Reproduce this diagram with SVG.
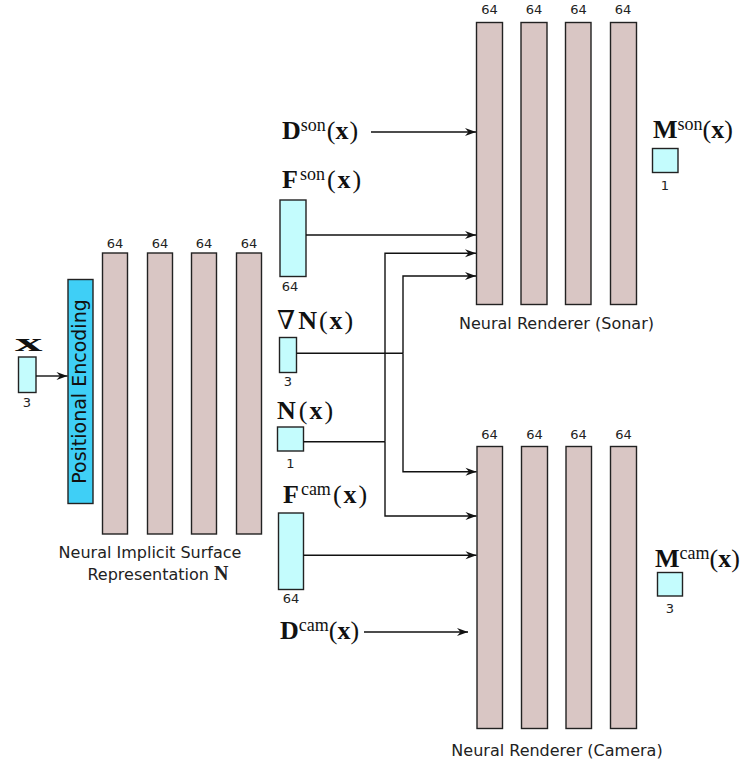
<svg xmlns="http://www.w3.org/2000/svg" width="749" height="767" viewBox="0 0 749 767">
<defs>
<style>
.bar{fill:#d9c6c4;stroke:#222;stroke-width:1.4}
.vec{fill:#c4fcfd;stroke:#222;stroke-width:1.4}
.pe{fill:#3fcff6;stroke:#222;stroke-width:1.4}
.dim{font-family:"DejaVu Sans",sans-serif;font-size:13px;fill:#222;text-anchor:middle}
.cap{font-family:"DejaVu Sans",sans-serif;font-size:16px;fill:#222;text-anchor:middle}
.m{font-family:"Liberation Serif","DejaVu Serif",serif;font-size:26px;fill:#111}
.b{font-weight:bold}
.sup{font-size:18px}
.con{fill:none;stroke:#111;stroke-width:1.4}
</style>
<marker id="ah" markerUnits="userSpaceOnUse" markerWidth="12" markerHeight="10" viewBox="-12 -5 12 10" refX="0" refY="0" orient="auto">
<path d="M0,0 L-11,-4 L-7.5,0 L-11,4 Z" fill="#111"/>
</marker>
</defs>

<g id="input-x">
<text class="m b" x="15" y="350.5" font-size="45" textLength="27.5" lengthAdjust="spacingAndGlyphs">x</text>
<rect class="vec" x="18.5" y="357" width="17.5" height="35.5"/>
<text class="dim" x="27" y="406.5">3</text>
</g>

<g id="positional-encoding">
<rect class="pe" x="68" y="279.5" width="25" height="224"/>
<text transform="translate(86,391.5) rotate(-90)" text-anchor="middle" font-family="DejaVu Sans,sans-serif" font-size="19" fill="#111">Positional Encoding</text>
</g>

<g id="nis">
<rect class="bar" x="102.5" y="253" width="25" height="281"/>
<rect class="bar" x="147.5" y="253" width="25" height="281"/>
<rect class="bar" x="191.5" y="253" width="25" height="281"/>
<rect class="bar" x="236.5" y="253" width="25" height="281"/>
<text class="dim" x="115" y="247.5">64</text>
<text class="dim" x="160" y="247.5">64</text>
<text class="dim" x="204" y="247.5">64</text>
<text class="dim" x="249" y="247.5">64</text>
<text class="cap" x="150" y="558">Neural Implicit Surface</text>
<text class="cap" x="158" y="580">Representation <tspan font-family="Liberation Serif,serif" font-weight="bold" font-size="20">N</tspan></text>
</g>

<g id="sonar-renderer">
<rect class="bar" x="476.5" y="22.5" width="26" height="282"/>
<rect class="bar" x="521" y="22.5" width="26" height="282"/>
<rect class="bar" x="565.5" y="22.5" width="25.5" height="282"/>
<rect class="bar" x="610.5" y="22.5" width="26" height="282"/>
<text class="dim" x="489.5" y="14">64</text>
<text class="dim" x="534" y="14">64</text>
<text class="dim" x="578.5" y="14">64</text>
<text class="dim" x="623" y="14">64</text>
<text class="cap" x="556.5" y="328.5">Neural Renderer (Sonar)</text>
</g>

<g id="camera-renderer">
<rect class="bar" x="477" y="446.5" width="25.5" height="282"/>
<rect class="bar" x="521.5" y="446.5" width="26" height="282"/>
<rect class="bar" x="566" y="446.5" width="25.5" height="282"/>
<rect class="bar" x="610.5" y="446.5" width="26" height="282"/>
<text class="dim" x="489.5" y="438.5">64</text>
<text class="dim" x="534.5" y="438.5">64</text>
<text class="dim" x="578.5" y="438.5">64</text>
<text class="dim" x="623.5" y="438.5">64</text>
<text class="cap" x="557" y="755.5">Neural Renderer (Camera)</text>
</g>

<g id="m-son">
<text class="m" x="653" y="138"><tspan class="b">M</tspan><tspan class="sup" dy="-8">son</tspan><tspan dy="8">(</tspan><tspan class="b">x</tspan>)</text>
<rect class="vec" x="652.5" y="148.5" width="25.5" height="24"/>
<text class="dim" x="665" y="189.5">1</text>
</g>

<g id="m-cam">
<text class="m" x="655" y="567"><tspan class="b">M</tspan><tspan class="sup" dy="-8">cam</tspan><tspan dy="8">(</tspan><tspan class="b">x</tspan>)</text>
<rect class="vec" x="657.5" y="572.5" width="25" height="23.5"/>
<text class="dim" x="670" y="612.5">3</text>
</g>

<g id="d-son">
<text class="m" x="282" y="139"><tspan class="b">D</tspan><tspan class="sup" dy="-8">son</tspan><tspan dx="1" dy="8">(</tspan><tspan class="b">x</tspan><tspan dx="1">)</tspan></text>
</g>

<g id="f-son">
<text class="m" x="282" y="188"><tspan class="b">F</tspan><tspan class="sup" dx="2" dy="-8">son</tspan><tspan dx="2" dy="8">(</tspan><tspan class="b" dx="2">x</tspan><tspan dx="2">)</tspan></text>
<rect class="vec" x="280" y="200" width="26" height="76.5"/>
<text class="dim" x="290" y="290.5">64</text>
</g>

<g id="grad-n">
<text class="m" x="277" y="329">∇<tspan class="b" dx="3">N</tspan><tspan dx="2">(</tspan><tspan class="b" dx="2">x</tspan><tspan dx="2">)</tspan></text>
<rect class="vec" x="279.5" y="337.5" width="17" height="35"/>
<text class="dim" x="288" y="386">3</text>
</g>

<g id="n-x">
<text class="m" x="277" y="419"><tspan class="b">N</tspan><tspan dx="3">(</tspan><tspan class="b" dx="2">x</tspan><tspan dx="2">)</tspan></text>
<rect class="vec" x="277.5" y="427" width="26" height="24"/>
<text class="dim" x="290.5" y="467.5">1</text>
</g>

<g id="f-cam">
<text class="m" x="283" y="503"><tspan class="b">F</tspan><tspan class="sup" dx="2" dy="-8">cam</tspan><tspan dx="2" dy="8">(</tspan><tspan class="b" dx="2">x</tspan><tspan dx="2">)</tspan></text>
<rect class="vec" x="278.5" y="513" width="25" height="76.5"/>
<text class="dim" x="291" y="602.5">64</text>
</g>

<g id="d-cam">
<text class="m" x="280" y="639"><tspan class="b">D</tspan><tspan class="sup" dy="-8">cam</tspan><tspan dy="8">(</tspan><tspan class="b">x</tspan>)</text>
</g>

<g id="connectors">
<path class="con" d="M36,376 H67.5" marker-end="url(#ah)"/>
<path class="con" d="M371,132 H476" marker-end="url(#ah)"/>
<path class="con" d="M306,235 H476" marker-end="url(#ah)"/>
<path class="con" d="M385,441.7 V253.3 H476" marker-end="url(#ah)"/>
<path class="con" d="M385,441.7 V516 H476.5" marker-end="url(#ah)"/>
<path class="con" d="M303.5,441.7 H385"/>
<path class="con" d="M403,353.3 V276 H476" marker-end="url(#ah)"/>
<path class="con" d="M403,353.3 V471.7 H476.5" marker-end="url(#ah)"/>
<path class="con" d="M296.5,353.3 H403"/>
<path class="con" d="M303.5,555.3 H476.5" marker-end="url(#ah)"/>
<path class="con" d="M364,632 H468" marker-end="url(#ah)"/>
</g>
</svg>
